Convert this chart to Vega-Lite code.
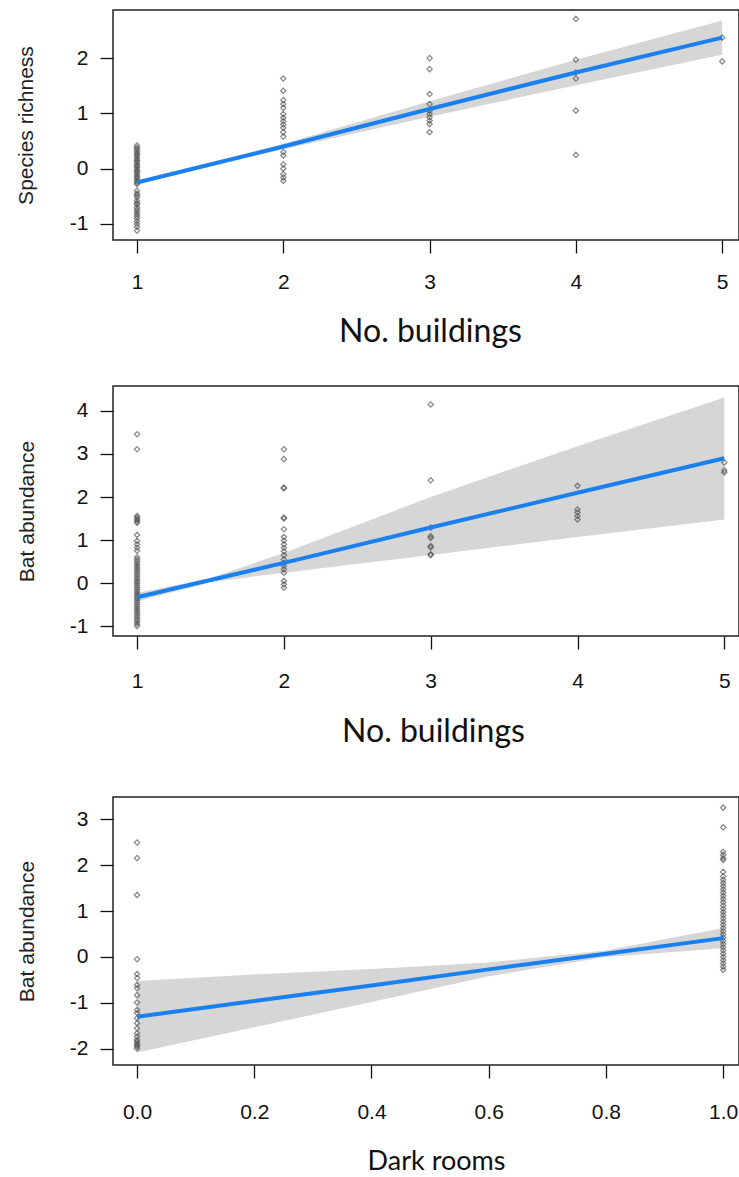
{
  "$schema": "https://vega.github.io/schema/vega-lite/v6.json",
  "padding": {"left": 14, "top": 9, "right": 0, "bottom": 0},
  "spacing": 48,
  "config": {
    "view": {"stroke": "#222", "strokeWidth": 1.5},
    "axis": {"domain": false, "grid": false, "tickColor": "#111", "tickSize": 13, "tickWidth": 1.3,
      "labelFont": "Liberation Sans", "labelFontSize": 21, "labelColor": "#111",
      "titleFontWeight": "normal", "titleColor": "#111"},
    "point": {"shape": "diamond", "filled": false, "color": "#444", "opacity": 0.6, "size": 28, "strokeWidth": 1.3},
    "area": {"color": "#d6d6d6"},
    "line": {"color": "#1a80f0", "strokeWidth": 4}
  },
  "datasets": {
    "pts1": [
      {"x":1,"y":0.42},{"x":1,"y":0.38},{"x":1,"y":0.35},{"x":1,"y":0.31},{"x":1,"y":0.28},{"x":1,"y":0.25},{"x":1,"y":0.22},{"x":1,"y":0.18},{"x":1,"y":0.15},{"x":1,"y":0.12},{"x":1,"y":0.08},{"x":1,"y":0.05},{"x":1,"y":0.02},{"x":1,"y":-0.02},{"x":1,"y":-0.05},{"x":1,"y":-0.08},{"x":1,"y":-0.12},{"x":1,"y":-0.15},{"x":1,"y":-0.18},{"x":1,"y":-0.22},{"x":1,"y":-0.25},{"x":1,"y":-0.28},{"x":1,"y":-0.40},{"x":1,"y":-0.45},{"x":1,"y":-0.48},{"x":1,"y":-0.52},{"x":1,"y":-0.58},{"x":1,"y":-0.62},{"x":1,"y":-0.65},{"x":1,"y":-0.70},{"x":1,"y":-0.74},{"x":1,"y":-0.78},{"x":1,"y":-0.82},{"x":1,"y":-0.86},{"x":1,"y":-0.90},{"x":1,"y":-0.95},{"x":1,"y":-1.0},{"x":1,"y":-1.05},{"x":1,"y":-1.12},
      {"x":2,"y":1.63},{"x":2,"y":1.41},{"x":2,"y":1.24},{"x":2,"y":1.17},{"x":2,"y":1.10},{"x":2,"y":0.99},{"x":2,"y":0.92},{"x":2,"y":0.86},{"x":2,"y":0.80},{"x":2,"y":0.74},{"x":2,"y":0.66},{"x":2,"y":0.58},{"x":2,"y":0.30},{"x":2,"y":0.24},{"x":2,"y":0.08},{"x":2,"y":0.0},{"x":2,"y":-0.10},{"x":2,"y":-0.16},{"x":2,"y":-0.22},
      {"x":3,"y":2.00},{"x":3,"y":1.80},{"x":3,"y":1.35},{"x":3,"y":1.17},{"x":3,"y":1.05},{"x":3,"y":0.99},{"x":3,"y":0.93},{"x":3,"y":0.87},{"x":3,"y":0.81},{"x":3,"y":0.66},
      {"x":4,"y":2.71},{"x":4,"y":1.97},{"x":4,"y":1.74},{"x":4,"y":1.63},{"x":4,"y":1.05},{"x":4,"y":0.25},
      {"x":5,"y":2.37},{"x":5,"y":1.94}
    ],
    "line1": [
      {"x":1,"fit":-0.25,"lo":-0.28,"hi":-0.22},
      {"x":2,"fit":0.40,"lo":0.35,"hi":0.45},
      {"x":3,"fit":1.08,"lo":0.94,"hi":1.22},
      {"x":4,"fit":1.74,"lo":1.51,"hi":1.97},
      {"x":5,"fit":2.37,"lo":2.06,"hi":2.68}
    ],
    "pts2": [
      {"x":1,"y":3.46},{"x":1,"y":3.11},{"x":1,"y":1.56},{"x":1,"y":1.52},{"x":1,"y":1.48},{"x":1,"y":1.44},{"x":1,"y":1.40},{"x":1,"y":1.12},{"x":1,"y":0.98},{"x":1,"y":0.90},{"x":1,"y":0.82},{"x":1,"y":0.75},{"x":1,"y":0.60},{"x":1,"y":0.55},{"x":1,"y":0.50},{"x":1,"y":0.45},{"x":1,"y":0.40},{"x":1,"y":0.35},{"x":1,"y":0.30},{"x":1,"y":0.25},{"x":1,"y":0.20},{"x":1,"y":0.15},{"x":1,"y":0.10},{"x":1,"y":0.05},{"x":1,"y":0.0},{"x":1,"y":-0.05},{"x":1,"y":-0.10},{"x":1,"y":-0.15},{"x":1,"y":-0.20},{"x":1,"y":-0.25},{"x":1,"y":-0.30},{"x":1,"y":-0.35},{"x":1,"y":-0.40},{"x":1,"y":-0.45},{"x":1,"y":-0.50},{"x":1,"y":-0.55},{"x":1,"y":-0.60},{"x":1,"y":-0.65},{"x":1,"y":-0.70},{"x":1,"y":-0.75},{"x":1,"y":-0.80},{"x":1,"y":-0.85},{"x":1,"y":-0.90},{"x":1,"y":-0.95},{"x":1,"y":-1.0},
      {"x":2,"y":3.11},{"x":2,"y":2.88},{"x":2,"y":2.22},{"x":2,"y":2.20},{"x":2,"y":1.52},{"x":2,"y":1.50},{"x":2,"y":1.25},{"x":2,"y":1.07},{"x":2,"y":0.99},{"x":2,"y":0.90},{"x":2,"y":0.82},{"x":2,"y":0.74},{"x":2,"y":0.65},{"x":2,"y":0.55},{"x":2,"y":0.47},{"x":2,"y":0.40},{"x":2,"y":0.32},{"x":2,"y":0.24},{"x":2,"y":0.05},{"x":2,"y":-0.03},{"x":2,"y":-0.11},
      {"x":3,"y":4.15},{"x":3,"y":2.39},{"x":3,"y":1.29},{"x":3,"y":1.09},{"x":3,"y":1.05},{"x":3,"y":0.86},{"x":3,"y":0.83},{"x":3,"y":0.67},{"x":3,"y":0.65},
      {"x":4,"y":2.26},{"x":4,"y":1.71},{"x":4,"y":1.64},{"x":4,"y":1.56},{"x":4,"y":1.48},
      {"x":5,"y":2.80},{"x":5,"y":2.62},{"x":5,"y":2.57}
    ],
    "line2": [
      {"x":1,"fit":-0.33,"lo":-0.43,"hi":-0.23},
      {"x":1.5,"fit":0.07,"lo":0.02,"hi":0.12},
      {"x":2,"fit":0.47,"lo":0.24,"hi":0.70},
      {"x":3,"fit":1.29,"lo":0.65,"hi":2.0},
      {"x":4,"fit":2.10,"lo":1.07,"hi":3.18},
      {"x":5,"fit":2.90,"lo":1.48,"hi":4.31}
    ],
    "pts3": [
      {"x":0,"y":2.49},{"x":0,"y":2.15},{"x":0,"y":1.35},{"x":0,"y":-0.05},{"x":0,"y":-0.37},{"x":0,"y":-0.46},{"x":0,"y":-0.61},{"x":0,"y":-0.68},{"x":0,"y":-0.83},{"x":0,"y":-0.99},{"x":0,"y":-1.15},{"x":0,"y":-1.22},{"x":0,"y":-1.33},{"x":0,"y":-1.44},{"x":0,"y":-1.55},{"x":0,"y":-1.66},{"x":0,"y":-1.73},{"x":0,"y":-1.80},{"x":0,"y":-1.84},{"x":0,"y":-1.88},{"x":0,"y":-1.92},{"x":0,"y":-1.95},{"x":0,"y":-1.99},
      {"x":1,"y":3.25},{"x":1,"y":2.82},{"x":1,"y":2.29},{"x":1,"y":2.22},{"x":1,"y":2.15},{"x":1,"y":2.11},{"x":1,"y":1.85},{"x":1,"y":1.75},{"x":1,"y":1.68},{"x":1,"y":1.61},{"x":1,"y":1.54},{"x":1,"y":1.47},{"x":1,"y":1.40},{"x":1,"y":1.33},{"x":1,"y":1.26},{"x":1,"y":1.19},{"x":1,"y":1.12},{"x":1,"y":1.05},{"x":1,"y":0.98},{"x":1,"y":0.91},{"x":1,"y":0.84},{"x":1,"y":0.77},{"x":1,"y":0.70},{"x":1,"y":0.63},{"x":1,"y":0.56},{"x":1,"y":0.49},{"x":1,"y":0.42},{"x":1,"y":0.35},{"x":1,"y":0.28},{"x":1,"y":0.21},{"x":1,"y":0.14},{"x":1,"y":0.07},{"x":1,"y":0.0},{"x":1,"y":-0.07},{"x":1,"y":-0.14},{"x":1,"y":-0.21},{"x":1,"y":-0.28}
    ],
    "line3": [
      {"x":0,"fit":-1.30,"lo":-2.08,"hi":-0.52},
      {"x":0.2,"fit":-0.96,"lo":-1.53,"hi":-0.38},
      {"x":0.4,"fit":-0.62,"lo":-0.98,"hi":-0.26},
      {"x":0.6,"fit":-0.27,"lo":-0.42,"hi":-0.12},
      {"x":0.8,"fit":0.07,"lo":0.0,"hi":0.14},
      {"x":1.0,"fit":0.41,"lo":0.19,"hi":0.63}
    ]
  },
  "vconcat": [
    {
      "spacing": 37,
      "vconcat": [
        {
          "width": 626, "height": 230,
          "layer": [
            {"data": {"name": "line1"}, "mark": "area",
             "encoding": {"x": {"field": "x", "type": "quantitative"}, "y": {"field": "lo", "type": "quantitative"}, "y2": {"field": "hi"}}},
            {"data": {"name": "pts1"}, "mark": "point",
             "encoding": {"x": {"field": "x", "type": "quantitative"}, "y": {"field": "y", "type": "quantitative"}}},
            {"data": {"name": "line1"}, "mark": "line",
             "encoding": {
               "x": {"field": "x", "type": "quantitative", "scale": {"domain": [0.836, 5.115], "nice": false, "zero": false},
                     "axis": {"values": [1,2,3,4,5], "format": "d", "labelPadding": 18, "title": "No. buildings", "titleFont": "Lato", "titleFontSize": 32, "titleBaseline": "alphabetic", "titleX": 317, "titleY": 101}},
               "y": {"field": "fit", "type": "quantitative", "scale": {"domain": [-1.29, 2.87], "nice": false, "zero": false},
                     "axis": {"values": [-1,0,1,2], "labelExpr": "'' + datum.value", "labelPadding": 12, "title": "Species richness", "titleFont": "Liberation Sans", "titleFontSize": 21, "titleColor": "#222", "titleAngle": 270, "titleBaseline": "alphabetic", "titleX": -81, "titleY": 115}}
             }}
          ]
        },
        {
          "width": 626, "height": 250,
          "layer": [
            {"data": {"name": "line2"}, "mark": "area",
             "encoding": {"x": {"field": "x", "type": "quantitative"}, "y": {"field": "lo", "type": "quantitative"}, "y2": {"field": "hi"}}},
            {"data": {"name": "pts2"}, "mark": "point",
             "encoding": {"x": {"field": "x", "type": "quantitative"}, "y": {"field": "y", "type": "quantitative"}}},
            {"data": {"name": "line2"}, "mark": "line",
             "encoding": {
               "x": {"field": "x", "type": "quantitative", "scale": {"domain": [0.836, 5.1], "nice": false, "zero": false},
                     "axis": {"values": [1,2,3,4,5], "format": "d", "labelPadding": 21, "title": "No. buildings", "titleFont": "Lato", "titleFontSize": 32, "titleBaseline": "alphabetic", "titleX": 320, "titleY": 105}},
               "y": {"field": "fit", "type": "quantitative", "scale": {"domain": [-1.23, 4.58], "nice": false, "zero": false},
                     "axis": {"values": [-1,0,1,2,3,4], "labelExpr": "'' + datum.value", "labelPadding": 12, "title": "Bat abundance", "titleFont": "Liberation Sans", "titleFontSize": 21, "titleColor": "#222", "titleAngle": 270, "titleBaseline": "alphabetic", "titleX": -80, "titleY": 125}}
             }}
          ]
        }
      ]
    },
    {
      "width": 626, "height": 268,
      "layer": [
        {"data": {"name": "line3"}, "mark": "area",
         "encoding": {"x": {"field": "x", "type": "quantitative"}, "y": {"field": "lo", "type": "quantitative"}, "y2": {"field": "hi"}}},
        {"data": {"name": "pts3"}, "mark": "point",
         "encoding": {"x": {"field": "x", "type": "quantitative"}, "y": {"field": "y", "type": "quantitative"}}},
        {"data": {"name": "line3"}, "mark": "line",
         "encoding": {
           "x": {"field": "x", "type": "quantitative", "scale": {"domain": [-0.041, 1.027], "nice": false, "zero": false},
                 "axis": {"values": [0,0.2,0.4,0.6,0.8,1.0], "format": ".1f", "labelPadding": 23, "title": "Dark rooms", "titleFont": "Lato", "titleFontSize": 27, "titleBaseline": "alphabetic", "titleX": 323, "titleY": 104}},
           "y": {"field": "fit", "type": "quantitative", "scale": {"domain": [-2.35, 3.48], "nice": false, "zero": false},
                 "axis": {"values": [-2,-1,0,1,2,3], "labelExpr": "'' + datum.value", "labelPadding": 12, "title": "Bat abundance", "titleFont": "Liberation Sans", "titleFontSize": 21, "titleColor": "#222", "titleAngle": 270, "titleBaseline": "alphabetic", "titleX": -80, "titleY": 134}}
         }}
      ]
    }
  ]
}
